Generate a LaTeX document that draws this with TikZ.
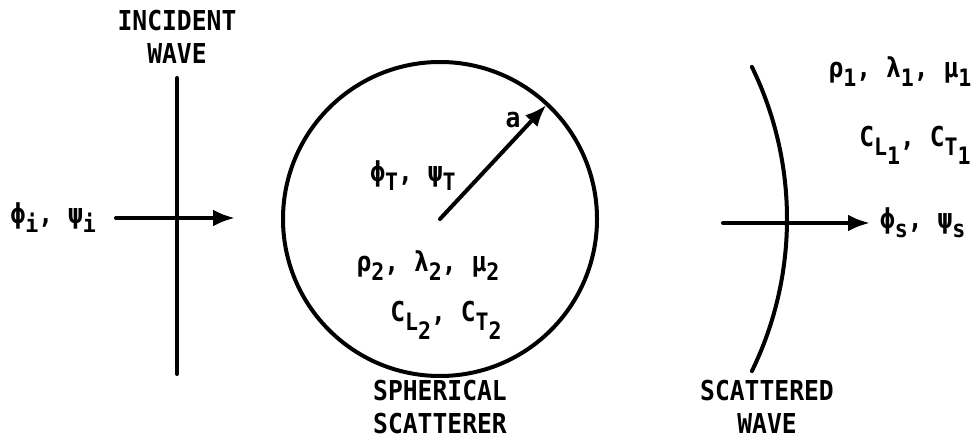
\documentclass[tikz,border=0pt]{standalone}
\usepackage{fontspec}
\setmainfont{DejaVu Sans Mono}[FakeStretch=0.9]
\usetikzlibrary{arrows.meta,positioning}
\newcommand\lo[1]{\raisebox{-4.5pt}{\fontsize{12}{12}\selectfont#1}}

\begin{document}
\begin{tikzpicture}[x=0.5pt,y=0.5pt,line width=2pt,line cap=round,
    every node/.style={font=\fontsize{13.7}{16.5}\selectfont\bfseries,inner sep=0pt,align=center}]
  \tikzstyle{tip}=[-{Latex[length=11pt,width=8.5pt]}]
  \useasboundingbox (0,0) rectangle (979,444);

  \coordinate (ctr) at (440,225);
  \path (ctr) ++(47:156) coordinate (rim);
  \draw (ctr) circle (157);
  \draw[tip] (ctr) -- (rim);
  \node (a) at (513,324) {a};
  \node (phiT) at (413,268) {ϕ\lo{T}, ψ\lo{T}};
  \node (rho2) at (428,178) {ρ\lo{2}, λ\lo{2}, μ\lo{2}};
  \node (cl2) at (446,124) {C\lo{L\lo{2}}, C\lo{T\lo{2}}};
  \node[anchor=north] (sph) at (440,66) {SPHERICAL\\SCATTERER};

  \coordinate (itop) at (177,366);
  \coordinate (ibot) at (177,70);
  \coordinate (istart) at (116,226);
  \coordinate (iend) at (235,226);
  \draw (itop) -- (ibot);
  \draw[tip] (istart) -- (iend);
  \node[left=9pt of istart] (inc) {ϕ\lo{i}, ψ\lo{i}};
  \node[above=6pt of itop] (inclbl) {INCIDENT\\WAVE};

  \draw (ctr) ++(-26:347) coordinate (sbot) arc[start angle=-26,end angle=26,radius=347] coordinate (stop);
  \coordinate (sstart) at (723,221);
  \coordinate (send) at (870,221);
  \draw[tip] (sstart) -- (send);
  \node[right=4pt of send] (scat) {ϕ\lo{s}, ψ\lo{s}};
  \node (rho1) at (900,372) {ρ\lo{1}, λ\lo{1}, μ\lo{1}};
  \node (cl1) at (915,299) {C\lo{L\lo{1}}, C\lo{T\lo{1}}};
  \node[anchor=north] (scatlbl) at (767,66) {SCATTERED\\WAVE};
\end{tikzpicture}
\end{document}
